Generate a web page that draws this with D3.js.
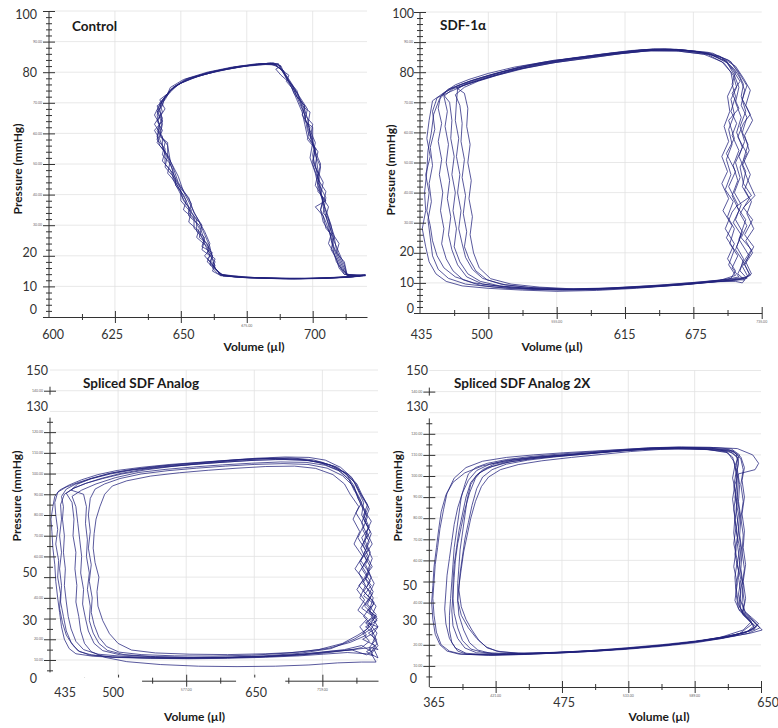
<!DOCTYPE html>
<html>
<head>
<meta charset="utf-8">
<script src="https://cdn.jsdelivr.net/npm/d3@7"></script>
<style>
  body { margin: 0; background: #fff; }
  svg { display: block; }
  text { font-family: Lato, "Open Sans", sans-serif; }
</style>
</head>
<body>
<svg id="chart" width="778" height="728"></svg>
<script>
// pressure-volume loops, [volume (µl), pressure (mmHg)]

const controlLoops = [
  [[713,13.6],[711,16],[709,20],[707,25],[706,30],[704,36],[703,42],[702,48],[701,54],[699,60],[698,65],[696,70],[693,75],[690,79],[687,82.6],[683,82.9],[674,82],[664,80.4],[655,78.3],[649,76],[646,73.5],[644,71.5],[642,68],[643,64],[642,60],[645,56],[646,51],[649,46],[651,41],[654,36],[657,31],[659,27],[661,23],[662,19],[663,16],[665,13.8],[672,13],[684,12.7],[697,12.6],[708,12.9],[716,13.4],[720,13.7]],
  [[714,13.2],[712,15],[710,19],[708,23],[707,28],[705,33],[706,36],[703,40],[702,46],[703,50],[700,56],[700,62],[697,64],[698,68],[695,72],[692,76],[689,80],[688,82],[685,83.1],[680,82.6],[670,81.6],[660,79.8],[652,77.5],[647,75],[645,72.8],[643,70.5],[641,66],[642,62],[641,58],[644,55],[644,50],[647,47],[650,42],[653,39],[655,34],[658,30],[657,26],[660,24],[662,20],[661,18],[664,15],[666,13.5],[674,12.9],[688,12.6],[701,12.7],[712,13.1],[719,13.6]],
  [[712,14],[710,17],[708,21],[707,26],[705,31],[703,35],[704,38],[702,43],[701,47],[699,52],[700,57],[698,61],[697,66],[695,71],[694,73],[691,77],[688,81],[686,82.4],[682,82.5],[673,81.8],[663,80.2],[654,78],[648,75.6],[645,73],[642,70],[643,67],[640,63],[643,59],[643,55],[645,52],[647,48],[647,45],[650,40],[652,37],[655,33],[655,29],[659,26],[658,23],[662,21],[660,19],[663,17],[662,15],[665,13.6],[676,12.8],[691,12.4],[705,12.6],[714,13],[720,13.5]],
  [[713,13.8],[711,18],[709,22],[708,27],[706,32],[704,34],[705,39],[702,44],[703,49],[701,53],[700,58],[698,62],[699,67],[696,69],[694,74],[690,78],[689,80.5],[686,82],[684,82.7],[676,82.2],[666,80.8],[657,78.8],[650,76.4],[646,74],[644,71],[641,69],[643,65],[641,61],[644,57],[643,53],[646,50],[648,45],[648,43],[651,40],[653,36],[653,33],[657,30],[659,25],[658,22],[661,20],[663,18],[662,16],[664,14.2],[670,13.1],[682,12.8],[695,12.5],[708,12.8],[717,13.3]],
  [[712,13.9],[710,16],[709,19],[707,22],[708,26],[705,29],[704,33],[701,36],[705,38],[702,41],[702,45],[700,50],[701,55],[698,59],[697,63],[696,67],[694,71],[692,75],[690,78],[688,81],[687,82.8],[681,82.8],[671,81.8],[661,80],[652,77.8],[647,75],[644,72],[642,69.5],[640,66],[642,63],[641,59],[642,56],[645,53],[644,49],[647,46],[650,42],[650,38],[653,35],[656,32],[656,28],[659,25],[661,22],[659,20],[662,17],[664,15],[666,13.7],[678,12.9],[693,12.5],[706,12.7],[716,13.2],[720,13.6]],
  [[713,13.5],[712,17],[710,21],[708,25],[707,30],[705,35],[703,40],[704,44],[701,49],[700,53],[701,57],[699,61],[697,65],[697,69],[694,72],[692,76],[688,79],[686,81],[688,82],[684,83],[677,82.3],[668,81],[659,79.3],[651,77],[646,74.2],[644,72],[643,69],[641,67],[643,63],[642,59],[645,57],[645,53],[647,49],[649,44],[652,40],[654,37],[653,34],[657,31],[659,28],[661,24],[660,21],[663,19],[662,17],[664,15],[666,13.4],[675,12.8],[689,12.5],[702,12.6],[713,13],[719,13.5]],
  [[714,13.4],[711,15.5],[709,18],[708,21],[706,24],[707,27],[704,31],[703,35],[704,39],[701,43],[702,47],[700,51],[701,55],[698,58],[699,62],[696,66],[697,69],[693,73],[691,77],[689,80],[686,82.4],[680,82.7],[672,81.9],[662,80.2],[653,78],[648,75.4],[645,73],[643,70.8],[641,67.5],[643,64],[640,61],[642,58],[644,54],[643,51],[646,48],[648,44],[650,41],[651,38],[654,35],[653,31],[657,28],[658,26],[660,22],[662,20],[661,17],[664,15],[665,13.5],[677,12.8],[692,12.5],[705,12.7],[715,13.1],[720,13.8]],
  [[713,14],[712,18],[709,21],[710,24],[707,28],[706,32],[704,37],[705,41],[702,45],[701,50],[702,54],[699,58],[700,63],[697,66],[695,70],[693,74],[690,77],[691,79],[687,81.5],[685,82.8],[679,82.8],[669,81.6],[660,80],[651,77.6],[646,75],[645,73],[642,71],[644,68],[641,64],[643,61],[641,57],[644,54],[646,51],[645,47],[648,44],[650,41],[652,38],[651,35],[655,32],[657,29],[656,26],[660,23],[661,20],[660,18],[663,16],[665,14],[674,13],[687,12.6],[700,12.6],[711,13],[718,13.4]]
];

const sdfLoops = [
  [[722,11.5],[716,14],[719,18],[713,22],[718,27],[712,31],[717,36],[711,40],[716,45],[712,50],[718,55],[713,60],[717,65],[712,70],[715,75],[711,79],[705,83],[690,86],[665,87.5],[640,87.8],[610,86.5],[580,85],[553,84],[525,82],[500,79.5],[482,77.5],[468,75.5],[458,73.5],[452,71],[447,66],[445,60],[442,54],[441,47],[439,40],[440,34],[437,28],[440,22],[443,17],[449,13],[458,10.5],[472,9],[495,8.2],[525,7.6],[555,7.2],[590,7.5],[625,8.2],[660,9.2],[690,10.2],[710,10.8]],
  [[718,10],[724,13],[719,17],[726,21],[717,25],[722,29],[716,33],[724,38],[718,42],[721,47],[715,52],[720,57],[716,62],[721,67],[717,72],[719,76],[714,80],[708,83.5],[692,86.3],[668,87.3],[642,87.4],[612,86.2],[582,84.6],[555,83.3],[527,81.3],[503,79],[486,77],[474,75],[466,72.5],[470,69],[472,63],[471,57],[474,51],[472,45],[475,39],[473,33],[476,27],[474,22],[478,18],[484,14],[494,11],[510,9.3],[535,8.4],[565,8],[600,8.3],[635,8.9],[665,9.6],[695,10.4],[712,10.5]],
  [[715,12],[709,15],[714,19],[707,23],[711,28],[705,32],[710,37],[703,41],[708,46],[704,51],[709,56],[706,61],[711,66],[708,71],[713,75],[710,79],[702,83],[688,85.8],[662,87],[638,87.2],[608,86],[578,84.5],[550,83],[522,81],[498,78.5],[480,76.5],[464,74.5],[456,72],[459,67],[457,62],[460,56],[458,50],[461,44],[459,38],[462,32],[460,26],[463,21],[468,16],[476,12],[490,9.6],[515,8.4],[545,7.8],[580,7.9],[615,8.6],[650,9.4],[680,10.3],[705,11.2]],
  [[725,12.5],[720,16],[727,20],[721,24],[728,28],[722,33],[726,37],[720,41],[725,46],[719,51],[723,56],[718,60],[722,65],[717,69],[720,74],[716,78],[711,81],[700,84.8],[680,86.8],[655,87.6],[625,87],[595,85.7],[565,84.2],[538,82.5],[512,80.2],[492,78],[476,76],[462,73.6],[450,71.5],[446,67],[448,61],[444,55],[446,49],[443,43],[445,37],[442,31],[444,25],[446,19],[451,14.5],[460,11.5],[475,9.6],[500,8.6],[530,8],[560,7.6],[595,7.8],[630,8.5],[665,9.4],[700,10.6],[718,11.4]],
  [[712,12.5],[706,16],[711,21],[704,25],[709,29],[701,34],[706,38],[700,43],[705,47],[700,52],[706,57],[702,62],[707,67],[705,72],[710,76],[708,80],[700,83.5],[684,86],[660,87.1],[632,87],[600,85.8],[570,84.3],[543,82.7],[515,80.5],[494,78.2],[478,76.2],[467,74.8],[474,73],[477,68],[476,62],[479,56],[477,50],[480,44],[478,38],[481,32],[479,26],[482,20],[487,15],[497,11.4],[515,9.6],[540,8.6],[570,8],[605,8.2],[640,8.8],[672,9.6],[698,10.8]],
  [[720,11],[714,13],[719,17],[712,21],[717,26],[710,30],[715,34],[709,39],[714,44],[710,49],[715,54],[709,59],[713,63],[708,67],[712,72],[709,76],[712,80],[704,83.6],[690,86],[664,87.2],[636,87.3],[606,86.2],[576,84.8],[548,83.3],[520,81.4],[496,79],[479,77],[462,74.5],[455,72.8],[461,70],[463,64],[462,58],[465,52],[463,46],[466,40],[464,34],[467,28],[465,22],[470,17],[477,13],[488,10.5],[505,9],[530,8.2],[560,7.8],[595,8],[630,8.7],[662,9.5],[692,10.4],[715,11]],
  [[723,12],[718,15.5],[724,19],[715,24.5],[721,31],[713,35.5],[726,39],[719,43],[716,48.5],[722,53],[714,58.5],[719,63],[725,66],[718,71],[722,75.5],[714,80.5],[706,84],[688,86.6],[660,87.6],[630,87.5],[598,86.1],[568,84.7],[540,83],[512,80.6],[490,78.3],[474,76.4],[460,74.4],[453,72],[451,68],[454,63],[451,57],[454,51],[452,46],[455,40],[453,34],[456,28],[454,23],[458,18],[464,14],[473,11],[488,9.2],[510,8.2],[540,7.7],[575,7.7],[610,8.4],[645,9.2],[678,10.2],[703,11]],
  [[708,11.5],[712,14],[705,18],[711,23],[703,28],[709,33.5],[714,36],[706,42],[712,47],[704,53],[711,58],[706,64],[715,68],[709,73],[716,77],[710,80.5],[703,83.8],[686,86.4],[660,87.4],[634,87.5],[604,86.4],[574,84.9],[546,83.5],[518,81.7],[495,79.6],[478,77.6],[466,75.8],[459,74],[446,70.5],[443,64],[441,58],[444,52],[440,46],[443,40],[441,34],[444,29],[446,24],[450,19],[456,15],[466,12],[482,10],[505,8.9],[535,8.1],[570,7.8],[605,8.1],[640,8.8],[672,9.8],[698,10.9]],
  [[726,13],[721,17],[728,22],[720,26],[727,31],[719,35],[729,39],[723,44],[718,49],[724,54],[720,59],[727,64],[721,69],[725,74],[719,78],[712,82],[698,85.3],[676,87],[650,87.8],[620,87.2],[590,85.8],[560,84.1],[532,82.3],[507,80],[488,77.8],[474,76],[468,74.4],[467,70],[466,64],[469,58],[467,52],[470,46],[468,40],[471,34],[469,28],[472,23],[475,18.5],[481,14.5],[490,11.5],[506,9.6],[530,8.5],[562,7.9],[598,8],[635,8.6],[668,9.4],[700,10.6],[720,11.6]]
];

const splicedLoops = [
  [[772,12],[768,16],[775,20],[770,25],[776,30],[768,34],[772,40],[765,45],[770,50],[764,56],[769,62],[763,68],[767,74],[760,80],[762,86],[756,92],[750,98],[738,103],[722,106.5],[705,107.8],[680,108],[650,107.4],[620,106.4],[590,105.4],[560,104.4],[530,103],[505,101.5],[485,99.5],[468,97],[455,94.5],[445,92],[440,89],[438,84],[436,78],[437,72],[438,64],[440,56],[441,48],[443,40],[445,33],[447,26],[450,20],[455,15.5],[462,13],[480,11.8],[505,11.2],[540,10.8],[580,10.6],[620,10.8],[660,11.3],[695,12],[720,12.8],[745,13.6],[765,13]],
  [[760,16],[768,19],[761,23],[770,27],[762,31],[768,35],[758,40],[764,46],[757,52],[765,58],[759,64],[766,70],[760,76],[764,82],[756,88],[752,94],[745,99],[735,103],[718,105.5],[698,106.6],[670,106.8],[640,106.2],[610,105.3],[580,104.3],[550,103.2],[522,101.8],[498,99.8],[478,97.5],[462,95],[452,92.5],[447,89],[449,84],[448,78],[450,70],[449,62],[451,54],[450,46],[452,38],[454,31],[457,25],[462,19],[470,15],[485,12.8],[510,11.8],[545,11.2],[585,11],[625,11.2],[665,11.7],[700,12.6],[730,14],[752,15.2]],
  [[765,22],[758,26],[766,30],[756,34],[763,39],[755,44],[762,49],[753,54],[761,60],[752,66],[758,72],[751,78],[757,84],[748,90],[742,95],[730,99.5],[712,102.5],[690,103.6],[660,103.4],[630,102.6],[600,101.6],[570,100.4],[540,98.8],[515,96.5],[500,94],[492,90],[487,84],[483,78],[481,71],[480,64],[482,57],[486,50],[484,43],[485,36],[490,29],[497,22.7],[506,18],[520,14.8],[545,13.4],[580,12.8],[620,12.6],[660,13],[695,13.8],[725,15.6],[748,18.5]],
  [[775,9],[770,13],[777,17],[771,22],[777,26],[770,31],[775,36],[767,41],[773,47],[766,53],[771,59],[765,65],[770,71],[763,77],[768,83],[760,89],[754,95],[744,100],[728,104],[710,106.6],[685,107.6],[655,107.2],[625,106.2],[595,105],[565,103.6],[535,101.8],[510,99.8],[490,97.6],[473,95.4],[460,93],[452,90.5],[458,86],[460,78],[459,70],[462,62],[461,54],[463,46],[462,38],[465,31],[467,24],[471,18],[478,14],[492,11.3],[515,9.2],[550,7.8],[590,7],[630,6.8],[670,7],[705,7.6],[735,8.6],[760,9]],
  [[770,25],[764,28],[772,31],[760,35],[768,40],[757,46],[766,51],[758,57],[764,63],[756,69],[762,75],[754,81],[760,86],[752,92],[747,97],[738,101],[722,104],[702,105.4],[675,105.6],[645,105],[615,104.2],[585,103.2],[555,102],[527,100.5],[503,98],[483,95],[468,92],[458,89],[462,84],[464,76],[466,68],[468,60],[467,52],[470,44],[469,37],[472,30],[475,24],[481,18],[490,14.5],[508,12.5],[540,11.6],[578,11.2],[618,11.4],[658,12],[695,13.2],[728,15.5],[752,20]],
  [[777,15],[771,18],[776,23],[769,27],[775,32],[766,37],[772,43],[764,49],[769,55],[762,61],[768,67],[761,73],[766,79],[759,85],[754,91],[747,97],[735,101.8],[718,105],[700,106.8],[672,107.4],[642,107],[612,106],[582,104.8],[552,103.6],[523,102],[500,100.4],[480,98],[465,95.8],[452,93.5],[443,91],[440,86],[441,80],[443,73],[441,66],[444,58],[443,50],[446,42],[445,35],[448,28],[452,22],[459,17],[466,14],[478,12.5],[500,11.5],[535,11],[575,10.8],[615,11],[655,11.5],[692,12.3],[722,13.4],[750,15],[770,16]],
  [[775,20],[767,23],[777,26],[765,28],[774,31],[763,36],[771,42],[761,47],[768,52],[759,58],[766,63],[760,69],[768,74],[762,80],[766,85],[758,91],[752,96],[742,100.5],[726,104.2],[706,106.2],[680,106.8],[650,106.5],[620,105.6],[590,104.6],[560,103.4],[532,102],[508,100],[488,97.6],[472,95.2],[459,92.8],[450,90],[446,85],[447,78],[445,70],[447,62],[445,54],[447,46],[446,38],[449,31],[452,24],[457,18.5],[464,14.5],[476,12.4],[500,11.4],[535,11],[575,10.8],[615,11.1],[655,11.6],[690,12.6],[718,13.8],[742,15],[760,17],[770,14],[776,18]],
  [[777,11],[765,14],[774,17],[761,20],[772,23],[764,26],[776,29],[768,33],[773,38],[762,43],[769,48],[760,54],[767,60],[761,66],[769,72],[762,78],[767,84],[760,90],[755,95],[746,99.6],[732,103.4],[714,105.8],[692,107],[664,107.3],[634,106.8],[604,105.8],[574,104.7],[544,103.4],[517,101.8],[495,99.8],[477,97.4],[464,95],[457,92],[470,90],[473,84],[472,76],[474,68],[473,60],[476,52],[474,44],[477,36],[476,29],[480,23],[486,18],[495,14.6],[512,12.6],[545,11.6],[585,11.2],[625,11.3],[665,11.9],[700,12.8],[728,14.2],[750,14.8],[765,12.5],[773,15]],
  [[768,28],[776,31],[766,34],[773,37],[762,41],[770,46],[763,50],[771,55],[764,61],[771,66],[765,72],[770,77],[763,82],[758,88],[751,94],[740,99],[724,102.6],[704,104.4],[678,104.8],[648,104.4],[618,103.6],[588,102.6],[558,101.4],[530,99.8],[508,97.6],[492,95],[482,92.5],[477,88],[475,80],[477,72],[475,64],[478,56],[476,48],[479,40],[478,33],[481,27],[486,21],[494,16.5],[507,13.8],[530,12.6],[565,12],[605,11.9],[645,12.3],[682,13.3],[715,15],[740,18],[756,22],[766,25]]
];

const spliced2xLoops = [
  [[640,27.5],[636,31],[630,34],[627,38],[628,45],[626,52],[627,60],[625,68],[626,76],[624,84],[625,92],[624,100],[626,106],[624,110.5],[618,112.5],[600,113.2],[575,113.6],[550,113.3],[525,112.4],[500,111.4],[475,110.4],[450,109.2],[430,107.8],[414,106],[404,104],[398,101],[395,96],[392,90],[390,82],[388,74],[386,66],[385,58],[384,50],[383,42],[382,34],[382,27],[384,21],[389,17],[397,15.5],[420,15.3],[450,15.8],[480,16.5],[510,17.4],[540,18.6],[570,20.2],[595,22],[615,24],[630,25.6]],
  [[642,29],[637,32],[632,35],[629,40],[630,48],[628,56],[629,64],[627,72],[628,80],[626,88],[627,96],[625,103],[626,108],[621,111],[610,112.3],[585,112.8],[560,112.6],[535,111.6],[510,110.2],[485,108.8],[460,107.2],[440,105.4],[425,103],[415,99.5],[409,95],[404,88],[400,80],[397,72],[394,64],[392,56],[390,48],[389,41],[390,34],[394,27],[399,21],[406,17.5],[418,15.8],[440,15.6],[470,16],[500,16.8],[530,17.8],[560,19.2],[590,21],[612,23],[632,26]],
  [[644,28],[639,31],[633,33.5],[628,37],[626,44],[628,51],[625,58],[627,66],[624,74],[626,82],[623,90],[625,98],[623,105],[627,110],[620,112.8],[602,113.6],[578,113.8],[553,113.4],[528,112.6],[503,111.8],[478,111],[453,110],[430,108.8],[410,107],[396,104],[386,99],[380,92],[377,84],[374,75],[372,66],[370,58],[369,50],[368,42],[369,34],[371,26],[375,20],[382,17],[392,15.6],[415,15],[445,15.4],[475,16.2],[505,17],[535,18.3],[565,19.8],[592,21.5],[614,23.2],[634,25.4]],
  [[638,30],[633,33],[627,36],[623,41],[625,49],[622,57],[624,65],[622,73],[623,81],[621,89],[623,96],[626,101],[640,103],[643,106],[638,110],[625,113],[605,113.5],[580,113.5],[555,113],[530,112],[505,110.8],[480,109.6],[455,108.4],[434,106.8],[418,104.5],[407,101.5],[400,97],[396,90],[393,82],[390,74],[388,66],[386,58],[385,50],[385,42],[386,35],[389,28],[393,22],[400,18],[410,16.4],[430,15.8],[460,16.2],[490,16.9],[520,17.9],[550,19.3],[580,20.8],[605,22.6],[625,24.5]],
  [[643,30],[637,33],[631,36],[627,42],[629,50],[627,58],[628,66],[626,74],[627,82],[625,90],[626,98],[624,104],[625,109],[618,111.8],[598,112.8],[572,113],[546,112.6],[520,111.6],[495,110.3],[470,109],[448,107.5],[430,105.6],[418,103],[410,99.5],[405,94],[401,86],[398,78],[395,70],[393,62],[391,54],[390,46],[392,38],[396,32],[401,27],[407,22],[414,18.5],[425,16.6],[445,15.9],[475,16.3],[505,17.2],[535,18.4],[565,19.9],[593,21.8],[616,23.8],[636,26.6]],
  [[641,28.5],[635,31.5],[630,35],[626,39],[624,47],[626,55],[623,63],[625,71],[623,79],[625,87],[622,95],[624,102],[622,107],[617,111],[600,112.6],[575,113],[550,112.7],[525,111.9],[500,110.8],[475,109.8],[450,108.6],[428,107],[410,104.8],[395,101.5],[385,97],[379,91],[375,83],[373,75],[371,66],[369,57],[368,48],[367,40],[368,32],[370,25],[374,20],[380,17],[390,15.6],[412,15.2],[442,15.6],[472,16.4],[502,17.3],[532,18.6],[562,20.1],[590,21.8],[612,23.6],[632,25.8]],
  [[639,29],[634,32],[629,35],[631,40],[629,48],[631,56],[629,64],[630,72],[628,80],[630,88],[628,96],[630,103],[628,108],[622,111.6],[605,112.8],[580,113.3],[555,113.1],[530,112.2],[505,111],[480,109.9],[455,108.8],[435,107.4],[420,105.6],[410,103],[404,99],[399,92],[395,84],[392,76],[389,68],[387,60],[386,52],[385,44],[384,36],[385,29],[389,23],[395,18.5],[405,16.2],[425,15.5],[455,15.9],[485,16.6],[515,17.5],[545,18.8],[575,20.4],[600,22.3],[620,24.3],[634,26.5]],
  [[646,27],[641,30],[636,33],[630,36],[632,42],[630,50],[632,58],[630,66],[631,74],[629,82],[631,90],[629,98],[631,104],[628,109],[621,112],[603,113.1],[578,113.5],[553,113.2],[528,112.3],[503,111.2],[478,110.1],[454,109],[432,107.6],[416,105.6],[405,102.6],[398,98],[393,92],[389,85],[386,77],[384,69],[382,61],[380,53],[379,45],[378,37],[379,30],[382,23],[387,18.5],[396,16],[418,15.1],[448,15.5],[478,16.2],[508,17.1],[538,18.4],[568,20],[594,21.7],[616,23.6],[636,25.5]],
  [[637,31],[632,34],[626,37],[624,44],[623,52],[625,60],[622,68],[624,76],[622,84],[624,92],[621,99],[623,105],[621,109],[615,111.5],[597,112.7],[572,113.1],[547,112.8],[522,111.9],[497,110.7],[472,109.4],[448,108],[428,106.2],[414,103.8],[405,100.5],[400,96],[397,89],[395,81],[393,73],[391,65],[390,57],[389,49],[389,41],[392,34],[398,28],[405,23],[413,19],[422,17],[440,16],[470,16.3],[500,17],[530,18.1],[560,19.6],[588,21.4],[610,23.4],[630,27]]
];

const titles = ["Control", "SDF-1α", "Spliced SDF Analog", "Spliced SDF Analog 2X"];

// axis ticks (volume)
const xMajor1 = [625, 650, 675, 700];
const xMinor1 = [612.5, 637.5, 662.5, 687.5, 712.5];
const xSmall1 = [675];
const xBig1 = ["600", "625", "650", "700"];
const xBigAt1 = [601.6, 623.9, 651.1, 700.8];

const xMajor2 = [495, 555, 615, 675, 735];
const xMinor2 = [465, 525, 585, 645, 705];
const xSmall2 = [555, 735];
const xBig2 = ["435", "500", "615", "675"];
const xBigAt2 = [436.5, 489.4, 614.7, 677.3];

const xMajor3 = [506, 577, 648, 719];
const xMinor3 = [470.5, 541.5, 612.5, 683.5, 754.5];
const xSmall3 = [577, 719];
const xBig3 = ["435", "500", "650"];
const xBigAt3 = [450.7, 500.8, 650];

const xMajor4 = [421, 477, 533, 589, 645];
const xMinor4 = [393, 449, 505, 561, 617];
const xSmall4 = [421, 533, 589];
const xBig4 = ["365", "475", "650"];
const xBigAt4 = [369, 478.8, 651];

// axis ticks (pressure)
const yMajorLow = [0, 10, 20, 30, 40, 50, 60, 70, 80, 90, 100];
const yMinorLow = [2,4,6,8,12,14,16,18,22,24,26,28,32,34,36,38,42,44,46,48,52,54,56,58,62,64,66,68,72,74,76,78,82,84,86,88,92,94,96,98];
const ySmallLow = [30, 40, 50, 60, 70, 90];
const yBigLow = ["100", "80", "20", "10", "0"];
const yBigAt1 = [98.7, 79.7, 21.2, 9.8, 2.3];
const yBigAt2 = [99.3, 79.7, 20.3, 10, 1.3];

const yMajorHigh = [10, 20, 30, 40, 50, 60, 70, 80, 90, 100, 110, 120];
const yMinorHigh = [5, 15, 25, 35, 45, 55, 65, 75, 85, 95, 105, 115, 125];
const ySmallHigh = [10, 20, 40, 60, 70, 80, 90, 100, 110, 120, 140];
const yLoneHigh = [140];
const yBigHigh = ["150", "130", "50", "30", "0"];
const yBigAt3 = [149.6, 132.4, 52, 28.8, 0.8];
const yBigAt4 = [149.8, 132.7, 47.9, 31.3, 3.8];

const gridLow = [10, 20, 30, 40, 50, 60, 70, 80, 90, 100];
const gridHigh = [10, 20, 30, 40, 50, 60, 70, 80, 90, 100, 110, 120, 130, 140, 150];

const panels = [
  { title: titles[0], loops: controlLoops, xDomain: [600, 720.6], xRange: [49, 367], yDomain: [0, 100], yRange: [317, 11],
    xMajor: xMajor1, xMinor: xMinor1, xSmall: xSmall1, xBig: xBig1, xBigAt: xBigAt1, xGrid: xMajor1,
    yMajor: yMajorLow, yMinor: yMinorLow, ySmall: ySmallLow, yLone: [], yBig: yBigLow, yBigAt: yBigAt1, yGrid: gridLow,
    yAxisSpan: [0, 100], gridTop: 100, yBigX: 37, xBigY: 335, titleXY: [72, 30.5], pressXY: [17.5, 169], volXY: [254, 347], masks: [] },
  { title: titles[1], loops: sdfLoops, xDomain: [435, 735], xRange: [420, 761.7], yDomain: [0, 100], yRange: [313, 12],
    xMajor: xMajor2, xMinor: xMinor2, xSmall: xSmall2, xBig: xBig2, xBigAt: xBigAt2, xGrid: [495, 555, 615, 675],
    yMajor: yMajorLow, yMinor: yMinorLow, ySmall: ySmallLow, yLone: [], yBig: yBigLow, yBigAt: yBigAt2, yGrid: gridLow,
    yAxisSpan: [0, 100], gridTop: 100, yBigX: 414, xBigY: 335, titleXY: [440, 30], pressXY: [391, 170], volXY: [552, 347], masks: [] },
  { title: titles[2], loops: splicedLoops, xDomain: [435, 777], xRange: [50, 378], yDomain: [0, 150], yRange: [680.7, 370],
    xMajor: xMajor3, xMinor: xMinor3, xSmall: xSmall3, xBig: xBig3, xBigAt: xBigAt3, xGrid: xMajor3,
    yMajor: yMajorHigh, yMinor: yMinorHigh, ySmall: ySmallHigh, yLone: yLoneHigh, yBig: yBigHigh, yBigAt: yBigAt3, yGrid: gridHigh,
    yAxisSpan: [4, 127], gridTop: 150, yBigX: 37, xBigY: 693, titleXY: [83, 387.5], pressXY: [17, 496], volXY: [194.5, 717],
    masks: [[432, 531], [629, 680.3]] },
  { title: titles[3], loops: spliced2xLoops, xDomain: [365, 645], xRange: [429.3, 761], yDomain: [0, 150], yRange: [687, 370.5],
    xMajor: xMajor4, xMinor: xMinor4, xSmall: xSmall4, xBig: xBig4, xBigAt: xBigAt4, xGrid: [421, 477, 533, 589],
    yMajor: yMajorHigh, yMinor: yMinorHigh, ySmall: ySmallHigh, yLone: yLoneHigh, yBig: yBigHigh, yBigAt: yBigAt4, yGrid: gridHigh,
    yAxisSpan: [0, 127.3], gridTop: 150, yBigX: 417, xBigY: 703, titleXY: [454, 387.5], pressXY: [397.5, 496], volXY: [659, 717], masks: [] }
];

const svg = d3.select("#chart");
const fmt = d3.format(".2f");
const AXIS = "#333";
const LOOP = "#22227c";

function drawPanel(p) {
  const g = svg.append("g");
  const x = d3.scaleLinear().domain(p.xDomain).range(p.xRange);
  const y = d3.scaleLinear().domain(p.yDomain).range(p.yRange);
  const axisX = p.xRange[0], axisY = p.yRange[0];

  // light grid
  g.append("g").selectAll("line").data(p.yGrid).join("line")
    .attr("x1", axisX).attr("x2", p.xRange[1])
    .attr("y1", d => y(d)).attr("y2", d => y(d))
    .attr("stroke", "#e2e2e2").attr("stroke-width", 0.8);
  g.append("g").selectAll("line").data(p.xGrid).join("line")
    .attr("x1", d => x(d)).attr("x2", d => x(d))
    .attr("y1", y(p.gridTop)).attr("y2", axisY)
    .attr("stroke", "#e2e2e2").attr("stroke-width", 0.8);

  // loops
  const line = d3.line().x(d => x(d[0])).y(d => y(d[1])).curve(d3.curveLinearClosed);
  g.append("g").selectAll("path").data(p.loops).join("path")
    .attr("d", line)
    .attr("fill", "none")
    .attr("stroke", LOOP)
    .attr("stroke-width", 0.75)
    .attr("stroke-linejoin", "round");

  // x axis: ticks cross the axis line
  const xa = g.append("g").attr("transform", `translate(0,${axisY})`).attr("color", AXIS);
  xa.call(d3.axisBottom(x).tickValues(p.xMajor).tickSizeInner(6).tickSizeOuter(0).tickFormat(""));
  xa.selectAll(".tick line").attr("y1", -6);
  const xm = g.append("g").attr("transform", `translate(0,${axisY})`).attr("color", AXIS);
  xm.call(d3.axisBottom(x).tickValues(p.xMinor).tickSizeInner(3).tickSizeOuter(0).tickFormat(""));
  xm.select(".domain").remove();
  xm.selectAll(".tick line").attr("y1", -3);

  g.append("g").selectAll("text").data(p.xSmall).join("text")
    .attr("x", d => x(d)).attr("y", axisY + 10)
    .attr("text-anchor", "middle")
    .attr("font-size", 3.5).attr("fill", "#666")
    .text(d => fmt(d));

  // y axis
  const ya = g.append("g").attr("transform", `translate(${axisX},0)`).attr("color", AXIS);
  ya.call(d3.axisLeft(y).tickValues(p.yMajor.concat(p.yLone)).tickSizeInner(6).tickSizeOuter(0).tickFormat(""));
  ya.select(".domain").remove();
  ya.selectAll(".tick line").attr("x1", 6);
  const ym = g.append("g").attr("transform", `translate(${axisX},0)`).attr("color", AXIS);
  ym.call(d3.axisLeft(y).tickValues(p.yMinor).tickSizeInner(3).tickSizeOuter(0).tickFormat(""));
  ym.select(".domain").remove();
  ym.selectAll(".tick line").attr("x1", 3);
  g.append("line")
    .attr("x1", axisX).attr("x2", axisX)
    .attr("y1", y(p.yAxisSpan[1])).attr("y2", y(p.yAxisSpan[0]))
    .attr("stroke", AXIS);
  g.append("g").selectAll("line").data(p.yLone).join("line")
    .attr("x1", axisX).attr("x2", axisX)
    .attr("y1", d => y(d) - 4).attr("y2", d => y(d) + 4)
    .attr("stroke", AXIS);

  g.append("g").selectAll("text").data(p.ySmall).join("text")
    .attr("x", axisX - 7).attr("y", d => y(d))
    .attr("dy", "0.35em")
    .attr("text-anchor", "end")
    .attr("font-size", 3.5).attr("fill", "#666")
    .text(d => fmt(d));

  // white label boxes that hide pieces of the volume axis
  g.append("g").selectAll("rect").data(p.masks).join("rect")
    .attr("x", d => x(d[0])).attr("width", d => x(d[1]) - x(d[0]))
    .attr("y", axisY - 3.2).attr("height", 26)
    .attr("fill", "#fff");

  // large overlaid tick numbers
  g.append("g").selectAll("text").data(p.xBig).join("text")
    .attr("x", (d, i) => x(p.xBigAt[i])).attr("y", p.xBigY)
    .attr("dy", "0.35em")
    .attr("text-anchor", "middle")
    .attr("font-size", 12.5).attr("fill", "#333")
    .text(d => d);
  g.append("g").selectAll("text").data(p.yBig).join("text")
    .attr("x", d => (+d >= 130 ? p.yBigX + 11 : p.yBigX))
    .attr("y", (d, i) => y(p.yBigAt[i]))
    .attr("dy", "0.35em")
    .attr("text-anchor", "end")
    .attr("font-size", 12.5).attr("fill", "#333")
    .text(d => d);

  // titles
  g.append("text")
    .attr("x", p.titleXY[0]).attr("y", p.titleXY[1])
    .attr("font-size", 13.5).attr("font-weight", "bold").attr("fill", "#1a1a1a")
    .text(p.title);
  g.append("text")
    .attr("transform", `translate(${p.pressXY[0]},${p.pressXY[1]}) rotate(-90)`)
    .attr("text-anchor", "middle").attr("dy", "0.35em")
    .attr("font-size", 12).attr("font-weight", "bold").attr("fill", "#1a1a1a")
    .text("Pressure (mmHg)");
  g.append("text")
    .attr("x", p.volXY[0]).attr("y", p.volXY[1])
    .attr("text-anchor", "middle").attr("dy", "0.35em")
    .attr("font-size", 12).attr("font-weight", "bold").attr("fill", "#1a1a1a")
    .text("Volume (µl)");
}

panels.forEach(drawPanel);
</script>
</body>
</html>
